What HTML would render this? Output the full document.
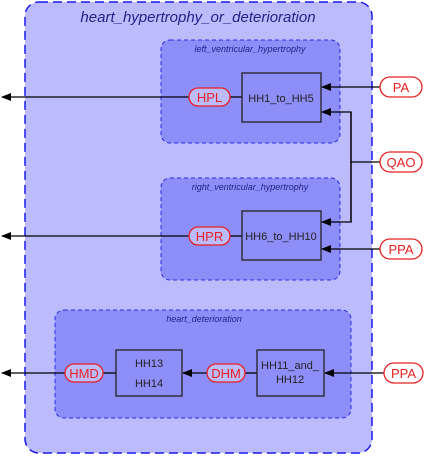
<!DOCTYPE html>
<html><head><style>body{margin:0;background:#fff}</style></head><body>
<svg width="425" height="456" xmlns="http://www.w3.org/2000/svg" font-family="Liberation Sans, sans-serif">
<defs><marker id="a" markerWidth="10" markerHeight="8" refX="9" refY="4" orient="auto" markerUnits="userSpaceOnUse"><path d="M0,0L10,4L0,8z" fill="#000"/></marker></defs>
<rect x="25" y="2" width="347" height="451" rx="14" fill="#bcbcfc" stroke="#1a1aee" stroke-width="1.5" stroke-dasharray="9,5"/>
<text x="198" y="22" text-anchor="middle" font-size="15" font-style="italic" fill="#22228a">heart_hypertrophy_or_deterioration</text>
<rect x="161" y="40" width="179" height="103" rx="9" fill="#8e8ef8" stroke="#2a2aee" stroke-dasharray="4,3"/>
<text x="250" y="52" text-anchor="middle" font-size="9" font-style="italic" fill="#22228a">left_ventricular_hypertrophy</text>
<rect x="161" y="178" width="179" height="102" rx="9" fill="#8e8ef8" stroke="#2a2aee" stroke-dasharray="4,3"/>
<text x="250" y="190" text-anchor="middle" font-size="9" font-style="italic" fill="#22228a">right_ventricular_hypertrophy</text>
<rect x="55" y="310" width="296" height="108" rx="9" fill="#8e8ef8" stroke="#2a2aee" stroke-dasharray="4,3"/>
<text x="204" y="322" text-anchor="middle" font-size="9" font-style="italic" fill="#22228a">heart_deterioration</text>
<g stroke="#000" stroke-width="1.3" fill="none">
<line x1="189" y1="97" x2="2" y2="97" marker-end="url(#a)"/>
<line x1="230" y1="97" x2="242" y2="97"/>
<line x1="380" y1="87" x2="322" y2="87" marker-end="url(#a)"/>
<polyline points="351,222 351,112 322,112" marker-end="url(#a)"/>
<polyline points="351,112 351,222 322,222" marker-end="url(#a)"/>
<line x1="351" y1="162" x2="380" y2="162"/>
<line x1="189" y1="236" x2="2" y2="236" marker-end="url(#a)"/>
<line x1="230" y1="236" x2="242" y2="236"/>
<line x1="380" y1="249" x2="322" y2="249" marker-end="url(#a)"/>
<line x1="65" y1="373" x2="2" y2="373" marker-end="url(#a)"/>
<line x1="103" y1="373" x2="116" y2="373"/>
<line x1="207" y1="373" x2="183" y2="373" marker-end="url(#a)"/>
<line x1="245" y1="373" x2="257" y2="373"/>
<line x1="384" y1="373" x2="325" y2="373" marker-end="url(#a)"/>
</g>
<g fill="#8e8ef8" stroke="#222" stroke-width="1.3">
<rect x="242" y="73" width="79" height="49"/>
<rect x="242" y="211" width="79" height="49"/>
<rect x="116" y="350" width="66" height="46"/>
<rect x="257" y="350" width="67" height="46"/>
</g>
<g font-size="11" fill="#222" text-anchor="middle">
<text x="281" y="102">HH1_to_HH5</text>
<text x="281" y="240">HH6_to_HH10</text>
<text x="149" y="367">HH13</text>
<text x="149" y="387">HH14</text>
<text x="290" y="369">HH11_and_</text>
<text x="290" y="383">HH12</text>
</g>
<g fill="#fff" stroke="#e82020" stroke-width="1.3">
<rect x="189" y="88" width="41" height="18" rx="9" fill="#bcbcfc"/>
<rect x="189" y="227" width="41" height="18" rx="9" fill="#bcbcfc"/>
<rect x="65" y="364" width="38" height="18" rx="9" fill="#bcbcfc"/>
<rect x="207" y="364" width="38" height="18" rx="9" fill="#bcbcfc"/>
<rect x="380" y="77" width="42" height="20" rx="10"/>
<rect x="380" y="152" width="42" height="20" rx="10"/>
<rect x="380" y="239" width="42" height="20" rx="10"/>
<rect x="384" y="363" width="39" height="20" rx="10"/>
</g>
<g font-size="13" fill="#e82020" text-anchor="middle">
<text x="209.5" y="102">HPL</text>
<text x="209.5" y="241">HPR</text>
<text x="84" y="378">HMD</text>
<text x="226" y="378">DHM</text>
<text x="401" y="92">PA</text>
<text x="401" y="167">QAO</text>
<text x="401" y="254">PPA</text>
<text x="403.5" y="378">PPA</text>
</g>
</svg>
</body></html>
